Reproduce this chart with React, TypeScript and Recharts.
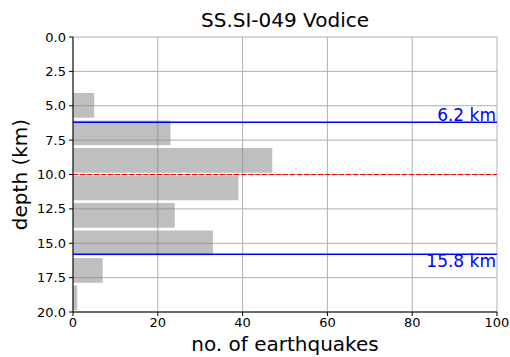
import React from 'react';
import { ComposedChart, Bar, XAxis, YAxis, CartesianGrid, ReferenceLine } from 'recharts';

// histogram bins (km) and earthquake counts per bin
const binStarts = [4, 6, 8, 10, 12, 14, 16, 18];
const counts = [5, 23, 47, 39, 24, 33, 7, 1];
const binWidth = 2;

const depthTicks = [0, 2.5, 5, 7.5, 10, 12.5, 15, 17.5, 20];
const countTicks = [0, 20, 40, 60, 80, 100];

// depth range lines + mean depth
const upperDepth = 6.2;
const lowerDepth = 15.8;
const meanDepth = 10.0;

const W = 510;
const H = 357;
const margin = { top: 37, right: 13, bottom: 0, left: 0 };
const yAxisWidth = 73;
const xAxisHeight = 45;
const plotHeight = H - margin.top - margin.bottom - xAxisHeight;
const barSize = ((binWidth * 0.9) / 20) * plotHeight;

const font = '"DejaVu Sans", sans-serif';

const data = binStarts.map((b, i) => ({ depth: b + binWidth / 2, count: counts[i] }));

export default function App() {
  return (
    <div style={{ position: 'absolute', left: 0, top: 0, width: W, height: H, background: '#fff', fontFamily: font }}>
      <div
        style={{
          position: 'absolute',
          left: yAxisWidth,
          width: W - yAxisWidth - margin.right,
          top: 8,
          textAlign: 'center',
          fontSize: 20,
          lineHeight: '24px',
          color: '#000',
        }}
      >
        SS.SI-049 Vodice
      </div>
      <ComposedChart width={W} height={H} data={data} layout="vertical" margin={margin}>
        <CartesianGrid stroke="#b0b0b0" strokeWidth={1} horizontalValues={depthTicks} verticalValues={countTicks} />
        <XAxis
          type="number"
          dataKey="count"
          domain={[0, 100]}
          ticks={countTicks}
          height={xAxisHeight}
          stroke="#000"
          tickSize={4}
          tickMargin={2}
          tick={{ fill: '#000', fontSize: 13, fontFamily: font }}
          label={{ value: 'no. of earthquakes', position: 'insideBottom', offset: 6, fontSize: 20, fill: '#000', fontFamily: font }}
        />
        <XAxis xAxisId="top" type="number" orientation="top" domain={[0, 100]} height={0} tick={false} tickLine={false} stroke="#000" />
        <YAxis
          type="number"
          dataKey="depth"
          domain={[0, 20]}
          ticks={depthTicks}
          width={yAxisWidth}
          stroke="#000"
          tickSize={4}
          tickMargin={3}
          tickFormatter={(v: number) => v.toFixed(1)}
          tick={{ fill: '#000', fontSize: 13, fontFamily: font }}
          label={{ value: 'depth (km)', angle: -90, position: 'insideLeft', offset: 20, fontSize: 20, fill: '#000', fontFamily: font, style: { textAnchor: 'middle' } }}
        />
        <YAxis yAxisId="right" type="number" orientation="right" domain={[0, 20]} width={0} tick={false} tickLine={false} stroke="#000" />
        <Bar dataKey="count" fill="#808080" fillOpacity={0.5} barSize={barSize} isAnimationActive={false} />
        <ReferenceLine
          y={upperDepth}
          stroke="#0000ff"
          strokeWidth={1.5}
          label={{ value: `${upperDepth.toFixed(1)} km`, position: 'insideBottomRight', offset: 1, fill: '#0000ff', fontSize: 17, fontFamily: font }}
        />
        <ReferenceLine
          y={lowerDepth}
          stroke="#0000ff"
          strokeWidth={1.5}
          label={{ value: `${lowerDepth.toFixed(1)} km`, position: 'insideTopRight', offset: 1, fill: '#0000ff', fontSize: 17, fontFamily: font }}
        />
        <ReferenceLine y={meanDepth} stroke="#ff0000" strokeWidth={1.2} strokeDasharray="5 2" />
      </ComposedChart>
    </div>
  );
}
